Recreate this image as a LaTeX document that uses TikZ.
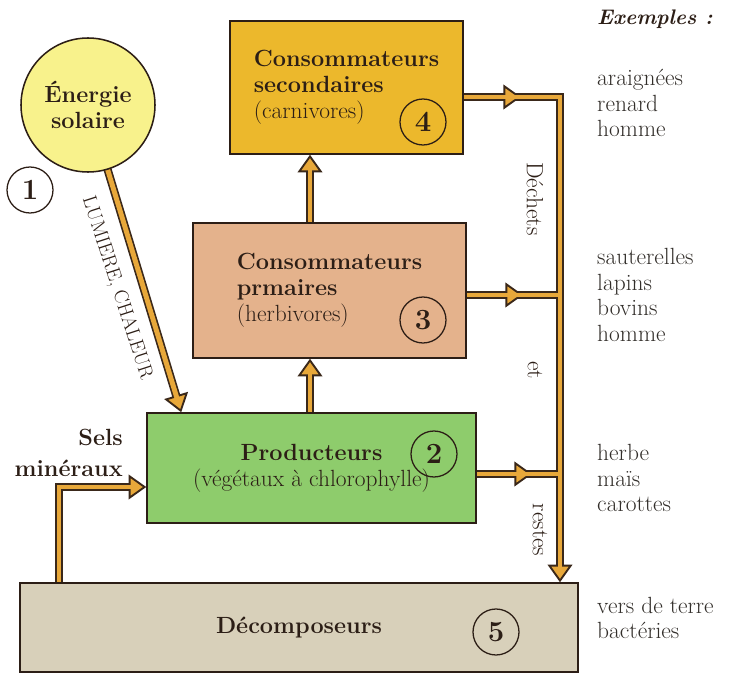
\documentclass[tikz,border=0pt]{standalone}
\usepackage{fontspec}
\usepackage{tikz}
\usetikzlibrary{arrows.meta, positioning, calc, backgrounds}
\definecolor{inkdark}{RGB}{44,30,22}
\definecolor{flowedge}{RGB}{58,40,26}
\definecolor{flowfill}{RGB}{232,168,58}
\definecolor{carnicol}{RGB}{236,184,44}
\definecolor{herbicol}{RGB}{228,178,140}
\definecolor{prodcol}{RGB}{142,204,108}
\definecolor{decocol}{RGB}{216,208,186}
\definecolor{suncol}{RGB}{248,242,140}
\definecolor{examplecol}{RGB}{50,46,42}

\tikzset{
  tier/.style={draw=inkdark, line width=1.3pt, align=left, text=inkdark,
               font=\fontsize{20}{22}\selectfont},
  badge/.style={circle, draw=inkdark, line width=1.1pt, minimum size=1.38cm,
                inner sep=0pt, text=inkdark, font=\fontsize{25}{25}\selectfont\bfseries},
  flowline/.style={draw=flowedge, line width=7pt},
  flowcore/.style={draw=flowfill, line width=4.2pt},
  flowhead/.style={-{Triangle[length=15pt, width=21pt, line width=1.6pt, fill=flowfill]}},
  note/.style={text=inkdark, inner sep=0pt, font=\fontsize{20}{22}\selectfont},
  examples/.style={anchor=west, align=left, inner sep=0pt, text=examplecol,
                   font=\fontsize{20}{22}\selectfont}
}

\begin{document}
\begin{tikzpicture}[x=0.03cm, y=-0.03cm]
  \useasboundingbox (0,0) rectangle (742,675);

  % niveaux de la chaine
  \node[tier, fill=carnicol, minimum width=6.99cm, minimum height=3.99cm]
        (carni) at (346.5,87.5) {\textbf{Consommateurs}\\\textbf{secondaires}\\(carnivores)};
  \node[tier, fill=herbicol, minimum width=8.19cm, minimum height=4.05cm]
        (herbi) at (329.5,290.5) {\textbf{Consommateurs}\\\textbf{prmaires}\\(herbivores)};
  \node[tier, fill=prodcol, align=center, minimum width=9.87cm, minimum height=3.3cm]
        (prod) at (311.5,468) {\textbf{Producteurs}\\(végétaux à chlorophylle)};
  \node[tier, fill=decocol, minimum width=16.74cm, minimum height=2.67cm]
        (deco) at (299,627.5) {\textbf{Décomposeurs}};
  \node[tier, circle, fill=suncol, align=center, minimum size=4.02cm]
        (sun) at (88,105) {\textbf{Énergie}\\\textbf{solaire}};

  \node[badge] (n1) at (30,190) {1};
  \node[badge] (n2) at (434,454) {2};
  \node[badge] (n3) at (423,320) {3};
  \node[badge] (n4) at (423,122) {4};
  \node[badge] (n5) at (496,632) {5};

  % points des fleches
  \coordinate (k4) at (560,97);
  \coordinate (k3) at (560,295);
  \coordinate (k2) at (560,474);
  \coordinate (k5) at (k4 |- deco.north);
  \coordinate (m4) at (521,97);
  \coordinate (m3) at (523,295);
  \coordinate (m2) at (532,474);
  \coordinate (up) at (310,0);
  \coordinate (sels) at (59,487);
  \coordinate (lum) at ($(prod.north west)+(35,0)$);

  \begin{scope}[on background layer]
    % bords sombres
    \draw[flowline, flowhead] (carni.east |- k4) -- (k4) -- (k5);
    \draw[flowline] (herbi.east |- k3) -- (k3);
    \draw[flowline] (prod.east |- k2) -- (k2);
    \draw[flowline, flowhead] (carni.east |- k4) -- (m4);
    \draw[flowline, flowhead] (herbi.east |- k3) -- (m3);
    \draw[flowline, flowhead] (prod.east |- k2) -- (m2);
    \draw[flowline, flowhead] (prod.north -| up) -- (herbi.south -| up);
    \draw[flowline, flowhead] (herbi.north -| up) -- (carni.south -| up);
    \draw[flowline, flowhead] (sels |- deco.north) -- (sels) -- (sels -| prod.west);
    \draw[flowline, flowhead] (sun.center) -- (lum);
    % interieur colore
    \draw[flowcore, shorten >=9pt] (carni.east |- k4) -- (k4) -- (k5);
    \draw[flowcore] (herbi.east |- k3) -- (k3);
    \draw[flowcore] (prod.east |- k2) -- (k2);
    \draw[flowcore, shorten >=9pt] (prod.north -| up) -- (herbi.south -| up);
    \draw[flowcore, shorten >=9pt] (herbi.north -| up) -- (carni.south -| up);
    \draw[flowcore, shorten >=9pt] (sels |- deco.north) -- (sels) -- (sels -| prod.west);
    \draw[flowcore, shorten >=9pt] (sun.center) -- (lum);
  \end{scope}

  % textes
  \node[note, rotate=-90] (dechets) at (535,199) {Déchets};
  \node[note, rotate=-90] (et) at (535,370) {et};
  \node[note, rotate=-90] (restes) at (540,530) {restes};
  \node[note, rotate=-72, font=\fontsize{17}{17}\selectfont] (lumiere) at (117,288) {LUMIERE, CHALEUR};
  \node[note, anchor=east, align=right, font=\fontsize{20}{26}\selectfont\bfseries]
        (selslabel) at (123,453) {Sels\\minéraux};

  \node[note, anchor=west, font=\fontsize{18}{18}\selectfont\bfseries\itshape]
        (exemples) at (597,19) {Exemples :};
  \node[examples] (ex4) at (597,103) {araignées\\renard\\homme};
  \node[examples] (ex3) at (597,295) {sauterelles\\lapins\\bovins\\homme};
  \node[examples] (ex2) at (597,478) {herbe\\maïs\\carottes};
  \node[examples] (ex5) at (597,618) {vers de terre\\bactéries};
\end{tikzpicture}
\end{document}
